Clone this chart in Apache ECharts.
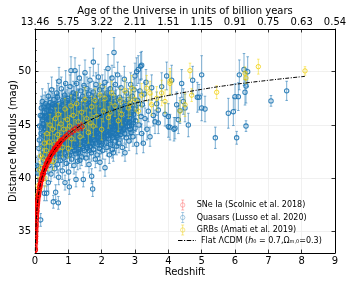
<!DOCTYPE html>
<html><head><meta charset="utf-8">
<script src="https://cdn.jsdelivr.net/npm/echarts@6/dist/echarts.min.js"></script>
<style>html,body{margin:0;padding:0;background:#fff}#c{width:353px;height:282px}</style>
</head><body><div id="c"></div>
<script>
// ---- axis ticks / labels ----
const redshiftTicks = [0,1,2,3,4,5,6,7,8,9];
const ageLabels = ['13.46','5.75','3.22','2.11','1.51','1.15','0.91','0.75','0.63','0.54'];
const muTicks = [35,40,45,50];

// ---- SNe Ia (Scolnic et al. 2018): [z, mu, err] ----
const sneData = [
[0.010,33.25,0.2],[0.011,33.35,0.2],[0.012,33.5,0.2],[0.013,33.8,0.2],[0.014,33.95,0.2],[0.015,34.1,0.2],[0.016,34.1,0.2],[0.017,34.35,0.2],[0.018,34.5,0.2],[0.019,34.55,0.2],[0.02,34.75,0.2],[0.022,34.9,0.18],[0.023,35.05,0.18],[0.025,35.15,0.18],[0.026,35.3,0.18],[0.028,35.45,0.18],[0.03,35.55,0.17],[0.032,35.75,0.17],[0.035,35.95,0.17],[0.037,36.05,0.17],[0.04,36.3,0.16],[0.042,36.35,0.16],[0.045,36.55,0.16],[0.048,36.6,0.16],[0.05,36.8,0.15],[0.055,36.9,0.15],[0.06,37.2,0.15],[0.065,37.3,0.15],[0.07,37.55,0.15],[0.075,37.6,0.15],[0.08,37.85,0.15],[0.085,37.95,0.15],[0.09,38.1,0.15],[0.1,38.35,0.15],[0.11,38.5,0.15],[0.12,38.8,0.15],[0.13,38.9,0.15],[0.14,39.15,0.15],[0.15,39.2,0.15],[0.16,39.5,0.15],[0.17,39.55,0.15],[0.18,39.75,0.15],[0.19,39.8,0.15],[0.2,40.0,0.15],[0.21,40.05,0.15],[0.22,40.25,0.15],[0.23,40.35,0.15],[0.24,40.4,0.15],[0.25,40.55,0.15],[0.26,40.65,0.15],[0.27,40.7,0.15],[0.28,40.85,0.15],[0.29,40.9,0.15],[0.3,41.0,0.15],[0.32,41.1,0.15],[0.33,41.25,0.15],[0.35,41.4,0.15],[0.37,41.45,0.15],[0.38,41.6,0.15],[0.4,41.7,0.16],[0.42,41.8,0.16],[0.44,41.95,0.16],[0.46,42.05,0.16],[0.48,42.2,0.16],[0.5,42.3,0.17],[0.52,42.35,0.17],[0.54,42.5,0.17],[0.56,42.55,0.17],[0.58,42.7,0.18],[0.6,42.8,0.18],[0.62,42.8,0.18],[0.64,42.95,0.19],[0.66,43.0,0.19],[0.68,43.1,0.2],[0.7,43.2,0.2],[0.73,43.3,0.2],[0.76,43.4,0.22],[0.8,43.55,0.22],[0.85,43.7,0.24],[0.9,43.85,0.25],[0.95,44.0,0.25],[1.02,44.2,0.28],[1.12,44.4,0.3],[1.2,44.6,0.3],[1.3,44.75,0.32],[1.4,44.85,0.35],
[0.012,33.3,0.2],[0.016,34.3,0.2],[0.021,34.6,0.2],[0.027,35.5,0.18],[0.033,35.7,0.17],[0.038,36.25,0.17],[0.044,36.4,0.16],[0.052,36.95,0.15],[0.058,37.0,0.15],[0.068,37.45,0.15],[0.078,37.7,0.15],[0.095,38.25,0.15],[0.105,38.4,0.15],[0.125,38.7,0.15],[0.145,39.3,0.15],[0.165,39.4,0.15],[0.185,39.9,0.15],[0.205,39.9,0.15],[0.235,40.45,0.15],[0.255,40.45,0.15],[0.285,41.0,0.15],[0.31,40.95,0.15],[0.34,41.4,0.15],[0.36,41.25,0.15],[0.39,41.75,0.16],[0.43,41.7,0.16],[0.47,42.15,0.16],[0.51,42.45,0.17],[0.55,42.4,0.17],[0.59,42.85,0.18],[0.63,42.7,0.18],[0.67,43.2,0.19],[0.72,43.1,0.2],[0.78,43.55,0.22]
];

// ---- Quasars (Lusso et al. 2020): [z, mu, err] ----
const quasarData = [
[0.06,41.2,0.9],[0.09,40.5,0.8],[0.1,41.1,0.7],[0.12,42.8,0.9],[0.13,43.6,1.0],[0.15,39.8,0.8],[0.17,36.1,0.6],[0.18,44.2,1.1],[0.19,42.1,0.8],[0.2,44.8,0.9],[0.21,43.2,0.7],[0.22,40.9,0.8],[0.23,45.5,1.0],[0.24,42.6,0.9],[0.25,41.7,0.8],[0.26,44.0,0.9],[0.27,43.1,0.8],[0.28,38.6,0.7],[0.29,46.2,1.0],[0.3,42.3,0.8],
[0.31,44.6,0.9],[0.32,40.6,0.8],[0.33,45.9,1.1],[0.34,43.4,0.9],[0.35,45.3,1.2],[0.35,38.6,0.7],[0.36,41.9,0.8],[0.37,44.9,0.9],[0.38,42.7,0.8],[0.39,46.8,1.1],[0.4,47.7,1.2],[0.4,39.6,0.8],[0.41,43.8,0.9],[0.42,41.2,0.8],[0.43,45.6,1.0],[0.44,44.2,0.9],[0.45,42.1,0.8],[0.46,46.3,1.0],[0.47,43.3,0.8],[0.48,40.4,0.7],[0.49,44.8,0.9],[0.5,48.3,1.2],[0.5,42.6,0.8],[0.51,45.2,1.0],[0.52,41.6,0.9],[0.53,46.9,1.1],[0.54,43.9,0.9],[0.55,37.8,0.6],[0.55,44.5,0.8],[0.56,42.2,0.9],[0.57,47.4,1.0],[0.58,45.7,1.0],[0.59,40.9,0.8],[0.6,43.5,0.9],
[0.61,46.2,1.0],[0.62,38.7,0.7],[0.63,44.1,0.9],[0.64,42.0,0.8],[0.65,48.0,1.2],[0.66,45.0,0.9],[0.67,41.3,0.8],[0.68,46.6,1.0],[0.69,43.0,0.8],[0.7,37.7,0.6],[0.7,44.7,0.9],[0.71,40.1,0.7],[0.72,49.1,1.3],[0.72,47.0,1.0],[0.73,42.6,0.9],[0.74,45.4,0.9],[0.75,43.8,0.8],[0.76,41.7,0.8],[0.77,46.0,1.0],[0.78,44.3,0.9],[0.79,48.4,1.1],[0.8,42.9,0.8],[0.81,45.1,0.9],[0.82,40.7,0.8],[0.83,47.3,1.0],[0.84,43.6,0.9],[0.85,46.4,1.0],[0.86,41.9,0.8],[0.87,44.9,0.9],[0.88,42.4,0.8],[0.89,47.8,1.1],[0.9,39.6,0.7],[0.9,45.8,0.9],[0.91,43.2,0.8],[0.92,48.9,1.2],[0.93,44.5,0.9],[0.94,41.4,0.8],[0.95,46.7,1.0],[0.96,43.9,0.9],[0.97,42.1,0.8],[0.98,45.3,0.9],[0.99,47.5,1.0],[1.0,44.0,0.9],
[1.01,40.6,0.8],[1.02,46.1,1.0],[1.03,39.2,0.7],[1.04,43.4,0.8],[1.05,48.6,1.1],[1.06,45.0,0.9],[1.07,42.5,0.8],[1.08,50.1,1.3],[1.08,47.1,1.0],[1.09,44.2,0.9],[1.1,41.8,0.8],[1.11,46.5,1.0],[1.12,43.6,0.9],[1.13,45.7,0.9],[1.14,42.9,0.8],[1.15,48.0,1.1],[1.16,44.8,0.9],[1.17,41.2,0.8],[1.18,47.6,1.0],[1.19,43.1,0.8],[1.2,50.1,1.2],[1.2,45.4,0.9],[1.21,46.9,1.0],[1.22,42.3,0.8],[1.23,39.9,0.7],[1.24,44.5,0.9],[1.25,48.9,1.1],[1.26,46.2,1.0],[1.27,43.8,0.9],[1.28,41.6,0.8],[1.29,45.9,0.9],[1.3,47.4,1.0],[1.31,44.1,0.9],[1.32,42.7,0.8],[1.33,49.4,1.2],[1.34,45.2,0.9],[1.35,41.7,0.8],[1.36,46.7,1.0],[1.37,43.4,0.9],[1.38,48.2,1.0],[1.39,44.8,0.9],[1.4,42.0,0.8],[1.41,46.0,1.0],[1.42,43.0,0.8],[1.43,47.7,1.0],[1.44,45.5,0.9],[1.45,39.9,0.7],[1.46,44.3,0.9],[1.47,48.7,1.1],[1.48,42.6,0.8],[1.49,46.4,1.0],[1.5,49.9,1.2],[1.5,44.9,0.9],
[1.51,43.7,0.9],[1.52,47.2,1.0],[1.53,41.9,0.8],[1.54,45.8,0.9],[1.55,44.2,0.9],[1.56,48.4,1.1],[1.57,42.9,0.8],[1.58,46.6,1.0],[1.59,45.1,0.9],[1.6,43.5,0.9],[1.61,47.9,1.0],[1.62,41.3,0.8],[1.63,44.7,0.9],[1.64,46.1,1.0],[1.65,49.2,1.2],[1.66,43.0,0.8],[1.67,45.6,0.9],[1.68,47.4,1.0],[1.69,42.4,0.8],[1.7,40.2,0.7],[1.7,44.4,0.9],[1.71,46.9,1.0],[1.72,43.8,0.9],[1.73,39.0,0.7],[1.74,45.3,0.9],[1.75,50.9,1.3],[1.75,48.1,1.0],[1.76,42.7,0.8],[1.77,46.3,1.0],[1.78,44.0,0.9],[1.79,47.6,1.0],[1.8,45.0,0.9],[1.81,41.8,0.8],[1.82,43.3,0.8],[1.83,48.8,1.1],[1.84,46.0,1.0],[1.85,44.6,0.9],[1.86,42.2,0.8],[1.87,47.0,1.0],[1.88,45.5,0.9],[1.89,43.6,0.9],[1.9,49.5,1.2],[1.91,44.9,0.9],[1.92,46.8,1.0],[1.93,42.8,0.8],[1.94,48.3,1.0],[1.95,41.5,0.8],[1.96,45.8,0.9],[1.97,44.1,0.9],[1.98,47.3,1.0],[1.99,43.1,0.8],[2.0,46.4,1.0],
[2.01,44.7,0.9],[2.02,48.6,1.1],[2.03,42.6,0.8],[2.04,45.9,0.9],[2.05,47.7,1.0],[2.06,43.9,0.9],[2.07,46.5,1.0],[2.08,45.2,0.9],[2.1,41.0,0.8],[2.1,49.0,1.2],[2.11,44.3,0.9],[2.12,47.1,1.0],[2.13,43.4,0.9],[2.14,45.7,0.9],[2.15,48.0,1.0],[2.16,42.9,0.8],[2.17,46.2,1.0],[2.18,44.8,0.9],[2.19,50.3,1.3],[2.2,47.5,1.0],[2.21,43.7,0.9],[2.22,45.4,0.9],[2.23,42.2,0.8],[2.24,46.8,1.0],[2.25,44.5,0.9],[2.26,48.4,1.1],[2.27,43.2,0.8],[2.28,45.9,0.9],[2.29,47.0,1.0],[2.3,44.0,0.9],[2.31,49.4,1.2],[2.32,42.7,0.8],[2.33,46.4,1.0],[2.34,45.1,0.9],[2.35,42.4,0.8],[2.36,47.8,1.0],[2.37,51.8,1.4],[2.38,44.6,0.9],[2.39,46.1,1.0],[2.4,43.5,0.9],[2.41,48.8,1.1],[2.42,45.6,0.9],[2.43,44.2,0.9],[2.44,47.3,1.0],[2.45,43.0,0.8],[2.46,46.7,1.0],[2.47,45.0,0.9],[2.48,49.7,1.2],[2.49,44.4,0.9],[2.5,46.0,1.0],
[2.52,43.3,0.9],[2.54,47.6,1.0],[2.55,45.4,0.9],[2.57,44.1,0.9],[2.58,48.5,1.1],[2.6,46.3,1.0],[2.62,42.9,0.8],[2.63,45.0,0.9],[2.65,47.1,1.0],[2.66,44.6,0.9],[2.68,49.3,1.2],[2.7,42.4,0.8],[2.7,46.6,1.0],[2.72,45.3,0.9],[2.74,43.8,0.9],[2.75,48.0,1.0],[2.77,46.0,1.0],[2.78,44.9,0.9],[2.8,47.4,1.0],[2.82,43.5,0.9],[2.84,46.8,1.0],[2.85,45.6,0.9],[2.87,48.8,1.1],[2.88,44.3,0.9],[2.9,46.2,1.0],[2.92,47.7,1.0],[2.94,43.9,0.9],[2.95,45.2,0.9],[2.97,48.3,1.0],[3.0,49.6,1.2],[3.0,44.7,0.9],
[3.03,46.5,1.0],[3.05,43.2,0.9],[3.05,50.0,1.3],[3.08,47.3,1.0],[3.1,50.2,1.3],[3.12,45.0,0.9],[3.15,48.2,1.1],[3.17,50.5,1.3],[3.2,44.2,0.9],[3.2,50.6,1.3],[3.22,46.9,1.0],[3.25,43.3,0.9],[3.28,47.9,1.1],[3.3,45.6,1.0],[3.33,49.0,1.2],[3.36,44.6,1.0],[3.4,46.3,1.0],[3.45,43.9,0.9],[3.5,48.5,1.2],[3.55,45.9,1.0],[3.6,45.3,1.1],[3.65,47.0,1.1],[3.7,46.4,1.2],[3.7,45.2,1.0],[3.8,48.6,1.3],[3.9,46.0,1.1],[3.95,49.6,1.3],[4.0,45.8,1.2],[4.0,44.85,1.0],
[4.05,44.8,1.2],[4.1,49.2,1.4],[4.17,44.6,1.1],[4.2,44.7,1.0],[4.25,46.9,1.2],[4.3,45.5,1.3],[4.35,46.35,1.2],[4.4,48.9,1.3],[4.45,47.2,1.2],[4.5,46.6,1.3],[4.6,45.0,1.1],[4.73,49.2,1.3],[4.87,47.6,1.4],[4.92,47.6,1.2],[5.0,49.7,1.8],[5.0,46.6,1.2],[5.1,46.5,1.2],[5.41,43.8,1.0],
[5.8,46.1,1.4],[5.95,46.25,1.3],[6.0,47.66,1.2],[6.05,43.8,0.6],[6.1,47.66,1.3],[6.13,49.7,1.4],[6.27,50.2,1.5],[6.33,48.66,1.6],[6.3,48.07,1.2],[6.33,44.9,0.5],[6.38,50.0,1.4],[7.08,47.26,0.5],[7.55,48.2,0.9],
[0.14,44.9,1.0],[0.16,45.9,1.1],[0.19,46.6,1.1],[0.22,47.2,1.2],[0.25,45.1,1.0],[0.27,46.7,1.1],[0.29,44.7,0.9],
[0.32,43.9,0.9],[0.37,42.9,0.8],[0.41,45.1,0.9],[0.44,46.0,1.0],[0.47,44.6,0.9],[0.52,43.2,0.8],[0.56,45.9,1.0],[0.6,44.9,0.9],[0.63,42.8,0.8],[0.66,46.9,1.0],[0.69,45.3,0.9],[0.71,43.4,0.8],[0.74,44.0,0.9],[0.77,42.3,0.8],[0.8,46.3,1.0],[0.83,44.9,0.9],[0.86,43.1,0.8],[0.88,45.6,0.9],[0.91,47.1,1.0],[0.94,44.7,0.9],[0.97,43.5,0.8],[0.99,46.2,1.0],
[1.02,44.4,0.9],[1.05,43.0,0.8],[1.07,45.8,0.9],[1.1,47.7,1.0],[1.13,44.9,0.9],[1.16,43.3,0.8],[1.19,46.1,1.0],[1.22,44.0,0.9],[1.25,45.6,0.9],[1.28,47.3,1.0],[1.31,42.9,0.8],[1.34,46.5,1.0],[1.37,44.6,0.9],[1.4,45.3,0.9],[1.43,43.9,0.8],[1.46,46.9,1.0],[1.49,45.0,0.9],[1.52,44.6,0.9],[1.55,46.3,1.0],[1.58,43.4,0.8],[1.61,45.5,0.9],[1.64,44.1,0.9],[1.67,46.6,1.0],[1.7,45.4,0.9],[1.73,47.2,1.0],[1.76,44.8,0.9],[1.79,43.6,0.8],[1.82,46.0,1.0],[1.85,45.3,0.9],[1.88,47.5,1.0],[1.91,44.2,0.9],[1.94,46.2,1.0],[1.97,45.0,0.9],
[2.02,45.6,0.9],[2.06,44.3,0.9],[2.09,46.9,1.0],[2.13,45.0,0.9],[2.17,47.4,1.0],[2.2,44.6,0.9],[2.24,45.9,0.9],[2.28,44.9,0.9],[2.32,46.7,1.0],[2.36,45.5,0.9],[2.4,47.2,1.0],[2.44,44.5,0.9],[2.48,46.3,1.0],[2.53,45.7,0.9],[2.58,44.8,0.9],[2.63,46.6,1.0],[2.68,45.2,0.9],[2.73,47.0,1.0],[2.79,45.9,0.9],[2.86,44.6,0.9],[2.93,46.9,1.0],
[0.21,45.9,1.0],[0.24,44.3,0.9],[0.26,42.2,0.8],[0.28,45.7,1.0],[0.3,43.6,0.9],[0.31,47.0,1.1],[0.33,42.1,0.8],[0.34,44.9,0.9],[0.36,46.4,1.0],[0.38,43.7,0.9],[0.39,45.2,0.9],[0.42,44.5,0.9],[0.43,42.6,0.8],[0.45,47.1,1.1],[0.46,44.0,0.9],[0.48,45.8,1.0],[0.49,43.0,0.8],
[0.51,44.1,0.9],[0.53,45.5,0.9],[0.54,42.9,0.8],[0.57,44.3,0.9],[0.58,46.8,1.0],[0.6,42.4,0.8],[0.62,45.3,0.9],[0.64,43.6,0.9],[0.65,44.6,0.9],[0.67,47.6,1.1],[0.68,42.3,0.8],[0.7,45.9,1.0],[0.73,44.4,0.9],[0.75,46.6,1.0],[0.76,43.0,0.8],[0.78,45.7,1.0],[0.79,44.6,0.9],[0.81,43.4,0.8],[0.82,46.9,1.0],[0.84,45.0,0.9],[0.85,42.7,0.8],[0.87,46.1,1.0],[0.89,44.1,0.9],[0.92,45.1,0.9],[0.93,42.8,0.8],[0.95,44.2,0.9],[0.96,47.3,1.0],[0.98,43.0,0.8],
[1.01,45.3,0.9],[1.03,47.0,1.0],[1.04,42.2,0.8],[1.06,46.6,1.0],[1.08,43.9,0.9],[1.11,45.1,0.9],[1.12,47.2,1.0],[1.14,44.1,0.9],[1.17,46.5,1.0],[1.18,42.6,0.8],[1.21,45.0,0.9],[1.23,47.9,1.0],[1.24,43.5,0.9],[1.27,45.2,0.9],[1.29,44.3,0.9],[1.3,42.4,0.8],[1.33,46.0,1.0],[1.35,44.9,0.9],[1.36,43.1,0.8],[1.38,45.8,0.9],[1.41,44.4,0.9],[1.42,47.3,1.0],[1.44,42.8,0.8],[1.47,45.9,0.9],[1.48,44.0,0.9],
[1.51,46.1,1.0],[1.53,44.9,0.9],[1.56,43.1,0.8],[1.57,45.6,0.9],[1.59,47.4,1.0],[1.62,44.4,0.9],[1.63,42.6,0.8],[1.66,46.2,1.0],[1.68,44.0,0.9],[1.72,45.9,0.9],[1.74,43.2,0.8],[1.77,44.9,0.9],[1.78,46.7,1.0],[1.81,44.5,0.9],[1.83,45.7,0.9],[1.86,43.9,0.9],[1.87,46.4,1.0],[1.9,45.1,0.9],[1.92,43.4,0.8],[1.95,46.9,1.0],[1.98,44.6,0.9],
[2.01,43.3,0.8],[2.04,47.2,1.0],[2.07,44.6,0.9],[2.11,46.0,1.0],[2.14,44.0,0.9],[2.18,46.5,1.0],[2.21,45.1,0.9],[2.25,47.6,1.0],[2.27,44.3,0.9],[2.31,45.6,0.9],[2.34,43.8,0.9],[2.38,46.2,1.0],[2.42,44.9,0.9],[2.46,43.8,0.9],[2.5,45.1,0.9],[2.55,46.6,1.0],[2.6,44.4,0.9],
[2.64,45.8,0.9],[2.69,44.2,0.9],[2.76,45.5,0.9],[2.81,46.3,1.0],[2.89,45.0,0.9],[2.96,46.0,1.0],[3.02,45.4,1.0],[3.1,47.0,1.1],[3.18,45.8,1.0],
[0.35,43.1,0.9],[0.36,45.8,1.0],[0.38,44.4,0.9],[0.4,42.8,0.8],[0.41,46.6,1.0],[0.43,44.0,0.9],[0.44,45.3,0.9],[0.46,42.8,0.8],[0.47,45.9,1.0],[0.49,46.6,1.0],[0.5,44.3,0.9],[0.52,45.9,0.9],[0.53,44.8,0.9],[0.55,43.5,0.8],[0.57,46.1,1.0],[0.58,44.0,0.9],[0.59,45.1,0.9],[0.61,43.2,0.8],[0.62,46.8,1.0],[0.64,45.6,0.9],[0.65,43.9,0.9],[0.67,44.9,0.9],[0.68,45.8,1.0],[0.69,44.0,0.9],
[0.7,42.9,0.8],[0.72,45.8,0.9],[0.73,44.9,0.9],[0.75,45.5,0.9],[0.76,44.6,0.9],[0.78,42.9,0.8],[0.79,46.2,1.0],[0.8,44.8,0.9],[0.82,43.9,0.9],[0.83,45.6,0.9],[0.85,45.0,0.9],[0.86,46.8,1.0],[0.88,43.5,0.8],[0.89,45.2,0.9],[0.9,44.3,0.9],[0.92,46.3,1.0],[0.93,43.6,0.9],[0.95,45.0,0.9],[0.96,44.5,0.9],[0.98,46.5,1.0],[0.99,44.7,0.9],
[1.0,45.6,0.9],[1.02,43.7,0.9],[1.03,45.0,0.9],[1.05,46.3,1.0],[1.06,44.1,0.9],[1.08,45.4,0.9],[1.09,43.3,0.8],[1.11,44.6,0.9],[1.12,46.0,1.0],[1.14,45.5,0.9],[1.15,43.8,0.9],[1.17,44.7,0.9],[1.18,45.9,1.0],[1.2,43.6,0.9],[1.21,44.3,0.9],[1.23,46.4,1.0],[1.25,44.0,0.9],[1.26,45.0,0.9],[1.28,43.2,0.8],[1.3,46.1,1.0],[1.32,44.6,0.9],[1.33,45.6,0.9],[1.35,43.5,0.9],[1.37,46.1,1.0],[1.39,45.1,0.9],[1.4,43.7,0.9],[1.42,44.9,0.9],[1.44,46.4,1.0],[1.46,45.0,0.9],[1.48,43.7,0.9],[1.49,45.6,0.9],
[1.5,43.2,0.8],[1.52,45.3,0.9],[1.54,44.0,0.9],[1.55,47.0,1.0],[1.57,44.5,0.9],[1.59,43.8,0.9],[1.6,46.0,1.0],[1.62,45.1,0.9],[1.64,43.6,0.9],[1.65,46.8,1.0],[1.67,44.6,0.9],[1.69,45.9,0.9],[1.7,43.3,0.8],[1.72,44.8,0.9],[1.74,46.5,1.0],[1.75,44.2,0.9],[1.77,45.7,0.9],[1.79,44.6,0.9],[1.8,46.4,1.0],[1.82,44.1,0.9],[1.84,45.4,0.9],[1.86,46.9,1.0],[1.88,44.4,0.9],[1.89,45.9,0.9],[1.91,43.8,0.9],[1.93,45.6,0.9],[1.95,44.5,0.9],[1.97,46.5,1.0],[1.99,45.5,0.9],
[2.0,43.9,0.9],[2.02,46.8,1.0],[2.04,44.4,0.9],[2.06,45.6,0.9],[2.08,43.8,0.9],[2.1,46.4,1.0],[2.12,45.5,0.9],[2.14,44.5,0.9],[2.16,47.0,1.0],[2.18,45.5,0.9],[2.2,44.0,0.9],[2.22,46.4,1.0],[2.24,45.2,0.9],[2.26,44.1,0.9],[2.28,46.6,1.0],[2.3,45.3,0.9],[2.32,44.3,0.9],[2.34,47.0,1.0],[2.36,44.9,0.9],[2.38,45.8,0.9],[2.4,44.8,0.9],[2.43,46.6,1.0],[2.45,45.6,0.9],[2.47,44.0,0.9],[2.5,45.5,0.9],[2.53,46.6,1.0],[2.56,44.6,0.9],[2.59,45.9,0.9],
[2.62,45.3,0.9],[2.66,46.2,1.0],[2.7,44.8,0.9],[2.74,46.4,1.0],[2.78,45.4,0.9],[2.83,44.9,0.9],[2.88,46.0,1.0],[2.94,45.5,0.9],[2.99,46.5,1.0]
];

// ---- GRBs (Amati et al. 2019): [z, mu, err] ----
const grbData = [
[0.03,36.9,0.6],[0.06,38.4,0.7],[0.09,39.3,0.8],[0.13,40.8,0.8],[0.15,39.0,0.7],[0.17,42.1,0.9],[0.2,40.4,0.8],[0.25,41.9,0.9],[0.28,43.3,0.9],[0.3,40.0,0.8],[0.34,42.6,0.9],[0.36,44.2,1.0],[0.4,41.5,0.8],[0.43,43.4,0.9],[0.45,45.0,1.0],[0.49,42.3,0.9],[0.53,44.6,1.0],[0.55,41.6,0.8],[0.58,43.2,0.9],[0.61,45.6,1.0],[0.64,42.7,0.9],[0.68,44.1,0.9],[0.7,46.0,1.0],[0.74,43.6,0.9],[0.78,45.1,1.0],[0.82,42.9,0.9],[0.86,44.6,1.0],[0.9,46.5,1.0],[0.94,43.9,0.9],[0.97,45.5,1.0],[1.0,42.8,0.9],[1.04,44.9,1.0],[1.08,46.8,1.0],[1.1,43.7,0.9],[1.15,45.9,1.0],[1.2,44.5,1.0],[1.25,47.0,1.1],[1.3,45.3,1.0],[1.35,43.9,0.9],[1.4,46.2,1.0],[1.45,44.85,1.0],[1.5,47.4,1.1],[1.55,45.6,1.0],[1.6,44.3,1.0],[1.65,45.2,1.0],[1.7,46.7,1.0],[1.75,44.9,1.0],[1.8,47.3,1.1],[1.85,45.8,1.0],[1.95,47.8,1.1],[2.0,44.6,1.0],[2.05,46.3,1.0],[2.1,47.5,1.1],[2.2,45.7,1.0],[2.25,46.1,1.0],[2.3,48.0,1.1],[2.4,46.8,1.0],[2.5,45.4,1.0],[2.55,47.35,1.1],[2.6,46.0,1.0],[2.7,48.2,1.1],[2.8,46.6,1.0],[2.85,47.0,1.1],[2.9,48.45,1.2],[3.0,47.4,1.1],[3.1,46.3,1.0],[3.2,47.8,1.1],[3.35,48.45,1.2],[3.45,48.0,1.1],[3.5,46.9,1.0],[3.65,47.5,1.1],[3.8,48.0,1.2],[3.9,47.2,1.1],[4.05,49.1,1.2],[4.05,48.9,1.1],[4.35,46.3,1.0],[4.5,46.9,1.1],[4.65,50.1,0.7],[4.7,47.8,0.6],[5.45,48.07,0.6],[6.3,49.85,0.6],[6.33,49.4,0.5],[6.7,50.47,0.7],[8.1,50.07,0.4]
];

// ---- Flat LCDM curve read at these redshifts ----
const lcdmZ  = [0.01,0.02,0.03,0.05,0.07,0.1,0.15,0.2,0.3,0.4,0.5,0.7,1.0,1.25,1.5,2.0,2.5,3.0,3.5,4.0,5.0,6.0,7.0,8.0,8.1];
const lcdmMu = [33.18,34.70,35.60,36.73,37.50,38.32,39.26,39.96,40.96,41.68,42.26,43.15,44.10,44.70,45.19,45.96,46.55,47.03,47.43,47.77,48.34,48.81,49.19,49.53,49.56];

const names = {
  sne: 'SNe Ia (Scolnic et al. 2018)',
  qso: 'Quasars (Lusso et al. 2020)',
  grb: 'GRBs (Amati et al. 2019)',
  lcdm: 'Flat ΛCDM (h0 = 0.7,Ωm,0=0.3)'
};
const FONT = 'DejaVu Sans';

function errRender(stroke, barColor, r, lw) {
  return function (params, api) {
    const x = api.value(0), y = api.value(1), e = api.value(2);
    const c = api.coord([x, y]);
    const lo = api.coord([x, y - e]);
    const hi = api.coord([x, y + e]);
    const cap = 1.3;
    const bs = {stroke: barColor, lineWidth: lw};
    return {type: 'group', children: [
      {type: 'line', shape: {x1: c[0], y1: lo[1], x2: c[0], y2: hi[1]}, style: bs},
      {type: 'line', shape: {x1: c[0]-cap, y1: lo[1], x2: c[0]+cap, y2: lo[1]}, style: bs},
      {type: 'line', shape: {x1: c[0]-cap, y1: hi[1], x2: c[0]+cap, y2: hi[1]}, style: bs},
      {type: 'circle', shape: {cx: c[0], cy: c[1], r: r}, style: {fill: 'none', stroke: stroke, lineWidth: lw}}
    ]};
  };
}

const QSO_C = 'rgba(31,119,180,0.9)', QSO_E = 'rgba(31,119,180,0.55)';
const GRB_C = 'rgba(240,205,0,0.85)', GRB_E = 'rgba(245,215,0,0.55)';
const SNE_C = 'rgba(255,0,0,0.8)', SNE_E = 'rgba(255,0,0,0.6)';

const errIcon = 'path://M5,0L5,10M3.5,0L6.5,0M3.5,10L6.5,10M7.2,5A2.2,2.2,0,1,1,2.8,5A2.2,2.2,0,1,1,7.2,5';
const dashDotIcon = 'path://M0,0h4.5v1h-4.5zM6,0h1.2v1h-1.2zM8.7,0h4.5v1h-4.5zM14.7,0h1.2v1h-1.2zM17.4,0h0.6v1h-0.6z';

const baseAxisY = {type: 'value', min: 33, max: 54, interval: 1};
const T = 'rgba(0,0,0,0)';
const legText = {fontSize: 8, color: '#000', fontFamily: FONT};

function oneLegend(top, item, extra) {
  return Object.assign({
    orient: 'vertical', left: 178, top: top,
    itemWidth: 18, itemHeight: 10, padding: 0,
    textStyle: legText,
    data: [item]
  }, extra || {});
}

const option = {
  animation: false,
  backgroundColor: '#fff',
  textStyle: {fontFamily: FONT},
  grid: {left: 35, top: 29, width: 300, height: 224, containLabel: false, outerBoundsMode: 'none'},
  xAxis: [
    {
      type: 'value', position: 'bottom', min: 0, max: 9, interval: 1,
      name: 'Redshift', nameLocation: 'middle', nameGap: 14, nameMoveOverlap: false,
      nameTextStyle: {fontSize: 10, color: '#000', fontFamily: FONT},
      axisLine: {show: true, lineStyle: {color: '#000', width: 1}},
      axisTick: {show: true, inside: true, length: 3.5, lineStyle: {color: '#000', width: 0.8}},
      axisLabel: {fontSize: 10, color: '#000', margin: 3, fontFamily: FONT,
                  formatter: v => redshiftTicks.indexOf(v) >= 0 ? String(v) : ''},
      splitLine: {show: true, lineStyle: {color: '#ececec', width: 0.8}}
    },
    {
      type: 'value', position: 'top', min: 0, max: 9, interval: 1,
      name: 'Age of the Universe in units of billion years', nameLocation: 'middle', nameGap: 13, nameMoveOverlap: false,
      nameTextStyle: {fontSize: 10, color: '#000', fontFamily: FONT},
      axisLine: {show: true, lineStyle: {color: '#000', width: 1}},
      axisTick: {show: true, inside: true, length: 3.5, lineStyle: {color: '#000', width: 0.8}},
      axisLabel: {fontSize: 10, color: '#000', margin: 2, fontFamily: FONT,
                  formatter: v => ageLabels[redshiftTicks.indexOf(v)] || ''},
      splitLine: {show: false}
    }
  ],
  yAxis: [
    Object.assign({}, baseAxisY, {
      position: 'left',
      name: 'Distance Modulus (mag)', nameLocation: 'middle', nameGap: 17, nameMoveOverlap: false,
      nameTextStyle: {fontSize: 10, color: '#000', fontFamily: FONT},
      axisLine: {show: true, lineStyle: {color: '#000', width: 1}},
      axisTick: {show: true, inside: true, length: 2, lineStyle: {color: '#000', width: 0.6}},
      axisLabel: {fontSize: 10, color: '#000', margin: 4, fontFamily: FONT, customValues: muTicks},
      splitLine: {show: true, showMinLine: true, showMaxLine: true,
                  lineStyle: {color: [T, T, '#ececec', T, T], width: 0.8}}
    }),
    Object.assign({}, baseAxisY, {
      position: 'left', offset: 0,
      axisLine: {show: false},
      axisTick: {show: true, inside: true, length: 3.5, customValues: muTicks, lineStyle: {color: '#000', width: 0.8}},
      axisLabel: {show: false},
      splitLine: {show: false}
    }),
    Object.assign({}, baseAxisY, {
      position: 'right',
      axisLine: {show: true, lineStyle: {color: '#000', width: 1}},
      axisTick: {show: true, inside: true, length: 3.5, customValues: muTicks, lineStyle: {color: '#000', width: 0.8}},
      axisLabel: {show: false},
      splitLine: {show: false}
    })
  ],
  legend: [
    oneLegend(197.5, {name: names.sne, icon: errIcon, itemStyle: {color: 'none', borderColor: 'rgba(255,0,0,0.35)', borderWidth: 0.8}}),
    oneLegend(210, {name: names.qso, icon: errIcon, itemStyle: {color: 'none', borderColor: 'rgba(31,119,180,0.45)', borderWidth: 0.8}}),
    oneLegend(222.5, {name: names.grb, icon: errIcon, itemStyle: {color: 'none', borderColor: 'rgba(240,205,0,0.55)', borderWidth: 0.8}}),
    oneLegend(236.5, {name: names.lcdm, icon: dashDotIcon, itemStyle: {color: '#000', borderWidth: 0}}, {
      formatter: () => '{n|Flat ΛCDM (}{i|h}{s|0}{n| = 0.7,Ω}{s|m,0}{n|=0.3)}',
      textStyle: Object.assign({}, legText, {rich: {
        n: {fontSize: 8, fontFamily: FONT, color: '#000'},
        i: {fontSize: 8, fontFamily: FONT, color: '#000', fontStyle: 'italic'},
        s: {fontSize: 5, fontFamily: FONT, color: '#000', verticalAlign: 'bottom'}
      }})
    })
  ],
  series: [
    {
      name: names.qso, type: 'custom', z: 1, clip: true, silent: true,
      encode: {x: 0, y: 1}, itemStyle: {color: QSO_C},
      renderItem: errRender(QSO_C, QSO_E, 2.2, 1.05), data: quasarData
    },
    {
      name: names.grb, type: 'custom', z: 2, clip: true, silent: true,
      encode: {x: 0, y: 1}, itemStyle: {color: GRB_C},
      renderItem: errRender(GRB_C, GRB_E, 2.2, 0.9), data: grbData
    },
    {
      name: names.sne, type: 'custom', z: 3, clip: true, silent: true,
      encode: {x: 0, y: 1}, itemStyle: {color: SNE_C},
      renderItem: errRender(SNE_C, SNE_E, 2.2, 0.9), data: sneData
    },
    {
      name: names.lcdm, type: 'line', z: 4, clip: true, silent: true,
      symbol: 'none', smooth: true,
      data: lcdmZ.map((z, i) => [z, lcdmMu[i]]),
      lineStyle: {color: '#000', width: 1, type: [4, 1.5, 1, 1.5]},
      itemStyle: {color: '#000'}
    }
  ]
};

const chart = echarts.init(document.getElementById('c'), null, {renderer: 'canvas'});
chart.setOption(option);
</script>
</body></html>
